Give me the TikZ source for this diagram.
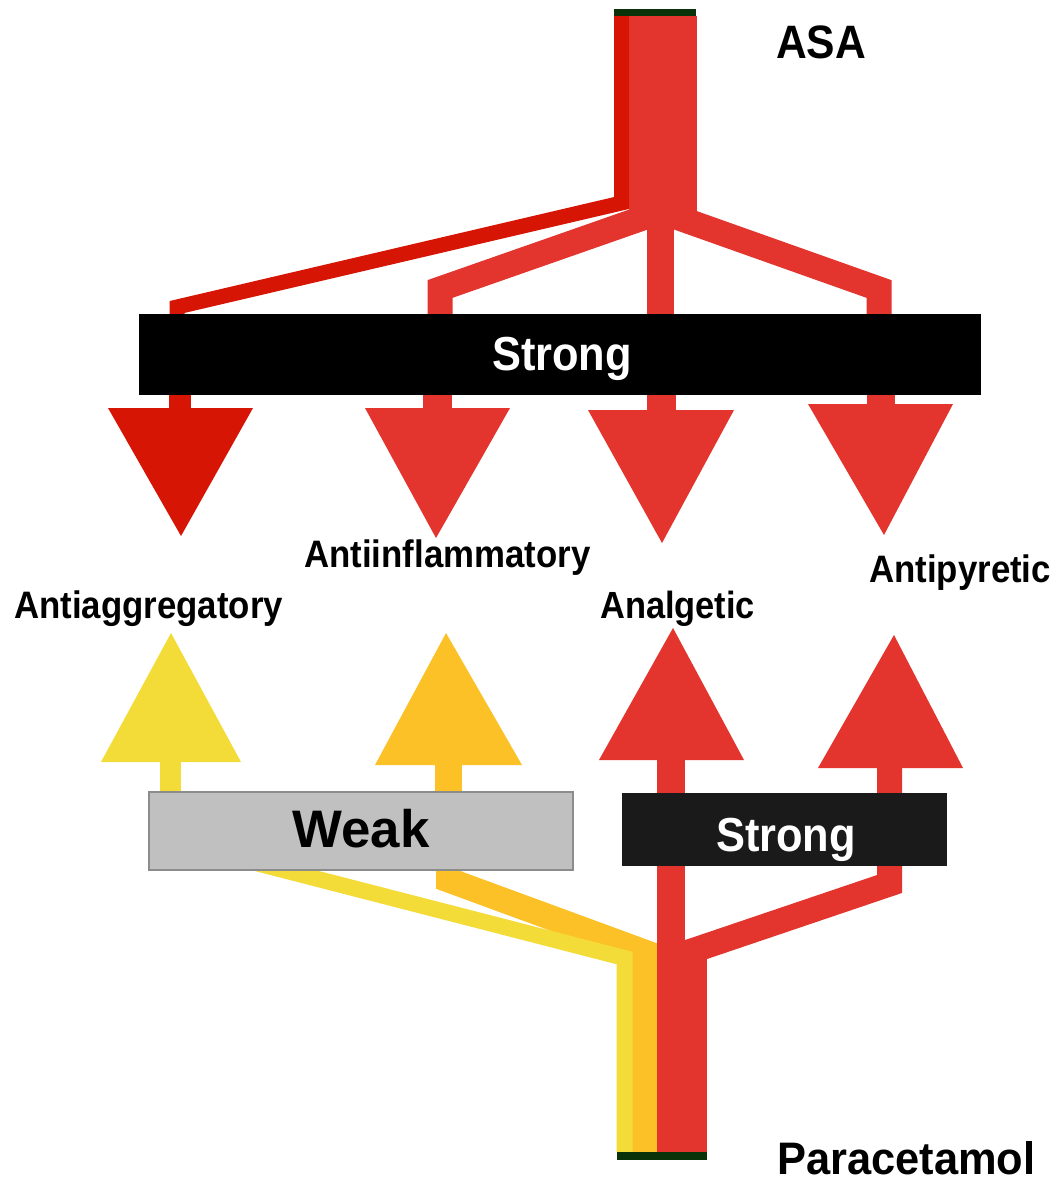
\documentclass[tikz,border=0pt]{standalone}
\usepackage{fontspec}
\usepackage{graphicx}
\setmainfont{Liberation Sans}
\definecolor{mainred}{HTML}{E3342D}
\definecolor{darkred}{HTML}{D61505}
\definecolor{yel}{HTML}{F3DC38}
\definecolor{org}{HTML}{FBC126}
\definecolor{capgreen}{HTML}{0B330A}
\definecolor{weakgray}{HTML}{C0C0C0}
\definecolor{weakborder}{HTML}{8C8C8C}
\definecolor{boxblack}{HTML}{1A1A1A}
\newcommand{\tallish}[1]{\scalebox{1}[1.1]{#1}}
\tikzset{
  band/.style={line width=#1, line join=miter, line cap=butt},
  lbl/.style={anchor=base west, inner sep=0pt, font=\bfseries\fontsize{34.8}{40}\selectfont},
  boxtext/.style={anchor=base, inner sep=0pt, text=white, font=\bfseries\fontsize{43.4}{48}\selectfont},
}
\begin{document}
\begin{tikzpicture}[x=1pt,y=-1pt]
\useasboundingbox (0,0) rectangle (1057,1185);
\fill[white] (0,0) rectangle (1057,1185);

% ---------------- ASA (top) ----------------
\coordinate (asaL) at (660,212);
\coordinate (asaR) at (662,212);
\draw[mainred, band=25] (asaL) -- (440,289) -- (440,320);
\draw[mainred, band=25] (asaR) -- (879,289) -- (879,320);
\fill[mainred] (647,200) rectangle (674,320);
\fill[mainred] (629,16) rectangle (697,215);
\draw[darkred, band=15] (621.5,16) -- (621.5,203) -- (177,307) -- (177,320);

% shafts below top box
\fill[darkred] (169,390) rectangle (191,410);
\fill[mainred] (423,390) rectangle (452,410);
\fill[mainred] (647,390) rectangle (676,412);
\fill[mainred] (867,390) rectangle (895,406);
% arrowheads (down)
\fill[darkred] (108,408) -- (253,408) -- (181,536) -- cycle;
\fill[mainred] (365,408) -- (510,408) -- (436,538) -- cycle;
\fill[mainred] (588,410) -- (734,410) -- (662,543) -- cycle;
\fill[mainred] (808,404) -- (953,404) -- (884,535) -- cycle;

\fill[capgreen] (614,9) rectangle (696,16);

% top Strong box
\node[fill=black, minimum width=842pt, minimum height=81pt, inner sep=0pt, anchor=north west] (strongA) at (139,314) {};
\node[boxtext] (strongAtxt) at (562,370) {\tallish{Strong}};

% ---------------- Paracetamol (bottom) ----------------
\draw[org, band=25] (644.5,1152) -- (644.5,952) -- (448.5,880) -- (448.5,790);
\fill[org] (435,760) rectangle (462,795);
\draw[yel, band=16] (624.5,1152) -- (624.5,958) -- (170.5,841) -- (170.5,790);
\fill[yel] (160,755) rectangle (181,795);
\fill[mainred] (657,945) rectangle (707,1152);
\draw[mainred, band=28] (671,1152) -- (671,755);
\draw[mainred, band=25] (671,958) -- (889.5,884) -- (889.5,765);

% arrowheads (up)
\fill[yel] (101,762) -- (241,762) -- (171,633) -- cycle;
\fill[org] (375,765) -- (522,765) -- (446,633) -- cycle;
\fill[mainred] (599,760) -- (744,760) -- (673,628) -- cycle;
\fill[mainred] (818,768) -- (963,768) -- (894,635) -- cycle;

\fill[capgreen] (617,1152) rectangle (707,1160);

% Weak box
\node[fill=weakgray, draw=weakborder, line width=1.5pt, minimum width=424pt, minimum height=78pt, inner sep=0pt, anchor=north west] (weak) at (148,791) {};
\node[anchor=base, inner sep=0pt, font=\bfseries\fontsize{52.8}{58}\selectfont] (weaktxt) at (361,847) {Weak};
% bottom Strong box
\node[fill=boxblack, minimum width=325pt, minimum height=73pt, inner sep=0pt, anchor=north west] (strongB) at (622,793) {};
\node[boxtext] (strongBtxt) at (786,851) {\tallish{Strong}};

% ---------------- labels ----------------
\node[anchor=base west, inner sep=0pt, font=\bfseries\fontsize{42.6}{48}\selectfont] (asa) at (776,59) {\tallish{ASA}};
\node[anchor=base west, inner sep=0pt, font=\bfseries\fontsize{43.4}{48}\selectfont] (para) at (777,1174) {\scalebox{1}[1.05]{Paracetamol}};
\node[lbl] (antiinf) at (304,567) {\tallish{Antiinflammatory}};
\node[lbl] (antiagg) at (14,618) {\tallish{Antiaggregatory}};
\node[lbl, font=\bfseries\fontsize{34.4}{40}\selectfont] (analg) at (600,618) {\tallish{Analgetic}};
\node[lbl] (antipyr) at (869,582) {\tallish{Antipyretic}};
\end{tikzpicture}
\end{document}
